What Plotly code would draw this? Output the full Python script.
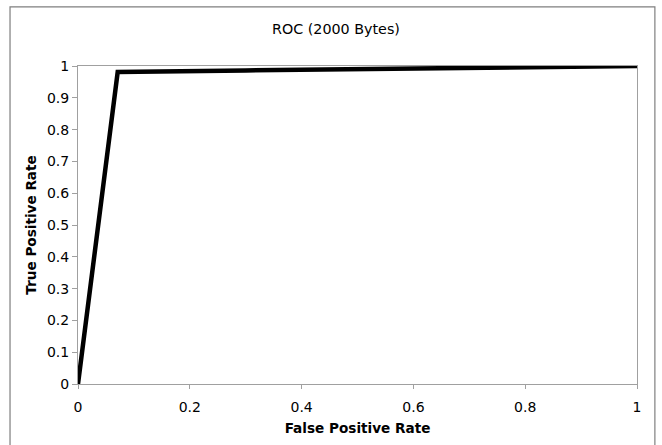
import plotly.graph_objects as go

title = "ROC (2000 Bytes)"
fpr = [0.0, 0.071, 0.3, 0.6, 1.0]
tpr = [0.0, 0.981, 0.986, 0.992, 1.0]
x_ticks = [0, 0.2, 0.4, 0.6, 0.8, 1]
y_ticks = [0, 0.1, 0.2, 0.3, 0.4, 0.5, 0.6, 0.7, 0.8, 0.9, 1]

font = "DejaVu Sans, Verdana, sans-serif"

fig = go.Figure()
fig.add_trace(go.Scatter(x=fpr, y=tpr, mode="lines",
                         line=dict(color="black", width=4.5), showlegend=False,
                         cliponaxis=False))

fig.update_layout(
    width=662, height=445,
    margin=dict(l=78, r=25, t=66, b=61),
    paper_bgcolor="white", plot_bgcolor="white",
    font=dict(family=font, size=14, color="black"),
    title=dict(text=title, x=0.4615, xref="paper", xanchor="center", y=0.935, yanchor="middle",
               font=dict(family=font, size=14.3, color="black")),
    shapes=[dict(type="rect", xref="paper", yref="paper",
                 x0=-0.1216, x1=1.032, y0=-0.3, y1=1.186,
                 line=dict(color="#7f7f7f", width=1.2), layer="below")],
)
fig.update_xaxes(range=[0, 1], tickvals=x_ticks, ticktext=[f"{v:g}" for v in x_ticks],
                 showgrid=False, zeroline=False, showline=True, linecolor="#a0a0a0",
                 linewidth=1, mirror=True, ticks="outside", ticklen=4, tickcolor="#a0a0a0",
                 ticklabelstandoff=6,
                 title=dict(text="<b>False Positive Rate</b>", standoff=9,
                            font=dict(family=font, size=13.6)),
                 tickfont=dict(family=font, size=14))
fig.update_yaxes(range=[0, 1], tickvals=y_ticks, ticktext=[f"{v:g}" for v in y_ticks],
                 showgrid=False, zeroline=False, showline=True, linecolor="#a0a0a0",
                 linewidth=1, mirror=True, ticks="outside", ticklen=5, tickcolor="#a0a0a0",
                 title=dict(text="<b>True Positive Rate</b>", standoff=7,
                            font=dict(family=font, size=13.6)),
                 tickfont=dict(family=font, size=14))

fig.write_html("out.html")
